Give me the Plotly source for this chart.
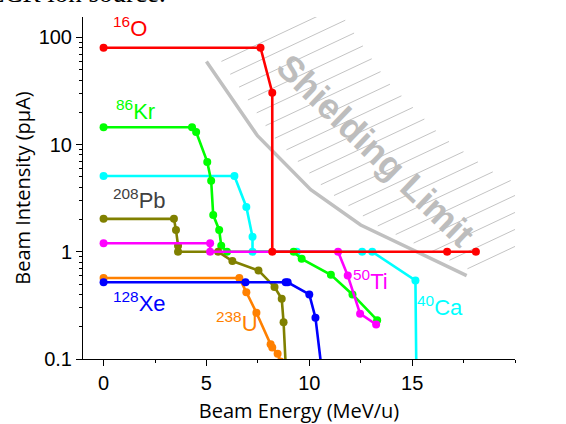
import numpy as np
import plotly.graph_objects as go

# ---------------- data ----------------
o16_x = [0, 7.63, 8.2, 8.2, 16.7, 18.1]
o16_y = [80, 80, 30.5, 1.0, 1.0, 1.0]

kr86_x = [0, 4.3, 4.5, 5.04, 5.23, 5.33, 5.62, 5.72, 6.0, 9.24, 9.63, 11.05, 12.1, 13.3]
kr86_y = [14.5, 14.5, 13.1, 6.9, 4.6, 2.2, 1.6, 1.14, 1.0, 1.0, 0.86, 0.61, 0.40, 0.23]

ca40_x = [0, 6.36, 6.94, 7.24, 7.24, 9.39, 12.57, 13.06, 15.16, 15.2]
ca40_y = [5.1, 5.1, 2.62, 1.38, 1.0, 1.0, 1.0, 1.0, 0.54, 0.09]

ti50_x = [0, 5.18, 5.18, 11.4, 11.87, 12.47, 13.25]
ti50_y = [1.2, 1.2, 1.0, 1.0, 0.60, 0.265, 0.21]

pb208_x = [0, 3.42, 3.52, 3.62, 3.62, 5.57, 6.26, 7.53, 8.31, 8.66, 8.75, 8.85]
pb208_y = [2.03, 2.03, 1.6, 1.14, 1.0, 1.0, 0.82, 0.67, 0.47, 0.365, 0.22, 0.09]

u238_x = [0, 6.6, 6.94, 7.43, 8.12, 8.2, 8.46, 8.6]
u238_y = [0.57, 0.57, 0.42, 0.27, 0.137, 0.128, 0.112, 0.095]

xe128_x = [0, 6.9, 8.85, 8.95, 10.0, 10.3, 10.57]
xe128_y = [0.52, 0.52, 0.52, 0.52, 0.40, 0.243, 0.09]

limit_x = [5.0, 7.48, 10.07, 12.5, 17.65]
limit_y = [59.7, 12.1, 3.8, 1.78, 0.60]

x_ticks = [0, 5, 10, 15]
y_ticks = [0.1, 1, 10, 100]
y_tick_labels = ["0.1", "1", "10", "100"]

caption_text = "ECR ion source."
limit_text = "Shielding Limit"

# ---------------- layout geometry ----------------
W, H = 566, 424
ML, MR, MT, MB = 83, 51, 17, 65
X_RANGE = [-1, 20]
Y_RANGE = [-1, np.log10(155)]
PW = W - ML - MR
PH = H - MT - MB
PX_X = PW / (X_RANGE[1] - X_RANGE[0])
PX_DEC = PH / (Y_RANGE[1] - Y_RANGE[0])


def px2x(px):
    return (px - ML) / PX_X + X_RANGE[0]


def px2logy(py):
    return Y_RANGE[1] - (py - MT) / PX_DEC


fig = go.Figure()

# ---- hatch lines for shielding limit ----
u = np.array(limit_x) * PX_X
v = np.log10(np.array(limit_y)) * PX_DEC
OFFSET = 15.0
SLOPE = 0.47
SPACING = 17.0
LENGTH = 115.0
uo = u + OFFSET
c_curve = v - SLOPE * uo
hx, hy = [], []
c = c_curve[0]
while c > c_curve[-1] - 1:
    for i in range(len(uo) - 1):
        if c_curve[i] >= c >= c_curve[i + 1]:
            t = (c_curve[i] - c) / (c_curve[i] - c_curve[i + 1])
            su = uo[i] + t * (uo[i + 1] - uo[i])
            sv = v[i] + t * (v[i + 1] - v[i])
            eu = su + LENGTH
            ev = sv + SLOPE * LENGTH
            hx += [su / PX_X, eu / PX_X, None]
            hy += [10 ** (sv / PX_DEC), 10 ** (ev / PX_DEC), None]
            break
    c -= SPACING
fig.add_trace(go.Scatter(x=hx, y=hy, mode="lines",
                         line=dict(color="#c4c4c4", width=1), hoverinfo="skip"))
fig.add_trace(go.Scatter(x=limit_x, y=limit_y, mode="lines",
                         line=dict(color="#c0c0c0", width=3.5), hoverinfo="skip"))

series = [
    (ca40_x, ca40_y, "#00FFFF"),
    (kr86_x, kr86_y, "#00FF00"),
    (pb208_x, pb208_y, "#808000"),
    (u238_x, u238_y, "#FF8000"),
    (xe128_x, xe128_y, "#0000FF"),
    (ti50_x, ti50_y, "#FF00FF"),
    (o16_x, o16_y, "#FF0000"),
]
for sx, sy, col in series:
    fig.add_trace(go.Scatter(x=sx, y=sy, mode="lines+markers",
                             line=dict(color=col, width=2.6),
                             marker=dict(color=col, size=8)))


# ---- labels (placed by pixel position: left edge, glyph centre) ----
def lab(px, py, txt, col):
    fig.add_annotation(x=px2x(px - 2), y=px2logy(py - 1.5), text=txt, showarrow=False,
                       font=dict(family="Liberation Sans, Arial", size=22, color=col),
                       xanchor="left", yanchor="middle")


lab(113, 28.5, "<sup>16</sup>O", "#FF0000")
lab(116, 111, "<sup>86</sup>Kr", "#00FF00")
lab(113, 200, "<sup>208</sup>Pb", "#404040")
lab(113, 303.5, "<sup>128</sup>Xe", "#0000FF")
lab(216, 323, "<sup>238</sup>U", "#FF8000")
lab(353, 281.5, "<sup>50</sup>Ti", "#FF00FF")
lab(417, 307.5, "<sup>40</sup>Ca", "#00FFFF")

fig.add_annotation(x=px2x(376), y=px2logy(150), text="<b>" + limit_text + "</b>",
                   showarrow=False, textangle=44,
                   font=dict(family="Liberation Sans, Arial", size=36, color="#bdbdbd"),
                   xanchor="center", yanchor="middle")

fig.add_annotation(xref="paper", yref="paper", x=(168 - ML) / PW, y=1 + (MT - 10) / PH,
                   text=caption_text, showarrow=False, xanchor="right", yanchor="bottom",
                   font=dict(family="Liberation Serif, Times New Roman", size=27,
                             color="#000000"))

fig.update_layout(
    width=W, height=H, margin=dict(l=ML, r=MR, t=MT, b=MB),
    paper_bgcolor="white", plot_bgcolor="white", showlegend=False,
)
fig.update_xaxes(
    range=X_RANGE, showgrid=False, zeroline=False, showline=True, linecolor="black",
    linewidth=1, ticks="outside", ticklen=6, tickcolor="black", tickvals=x_ticks,
    automargin=False,
    tickfont=dict(family="Liberation Sans, Arial", size=20, color="black"),
    minor=dict(dtick=2.5, tick0=0, ticks="outside", ticklen=3, tickcolor="black"),
    title=dict(text="Beam Energy (MeV/u)", standoff=12,
               font=dict(family="Open Sans", size=20, color="black")),
)
fig.update_yaxes(
    type="log", range=Y_RANGE, showgrid=False, zeroline=False, showline=True,
    linecolor="black", linewidth=1, ticks="outside", ticklen=6, tickcolor="black",
    tickvals=y_ticks, ticktext=y_tick_labels, automargin=False,
    tickfont=dict(family="Liberation Sans, Arial", size=20, color="black"),
    minor=dict(ticks="outside", ticklen=3, tickcolor="black", dtick="D1"),
    title=dict(text="Beam Intensity (pµA)", standoff=2,
               font=dict(family="Open Sans", size=20, color="black")),
)

fig.write_html("out.html", config={"displayModeBar": False},
               post_script="document.body.style.margin='0';document.body.style.overflow='hidden';")
